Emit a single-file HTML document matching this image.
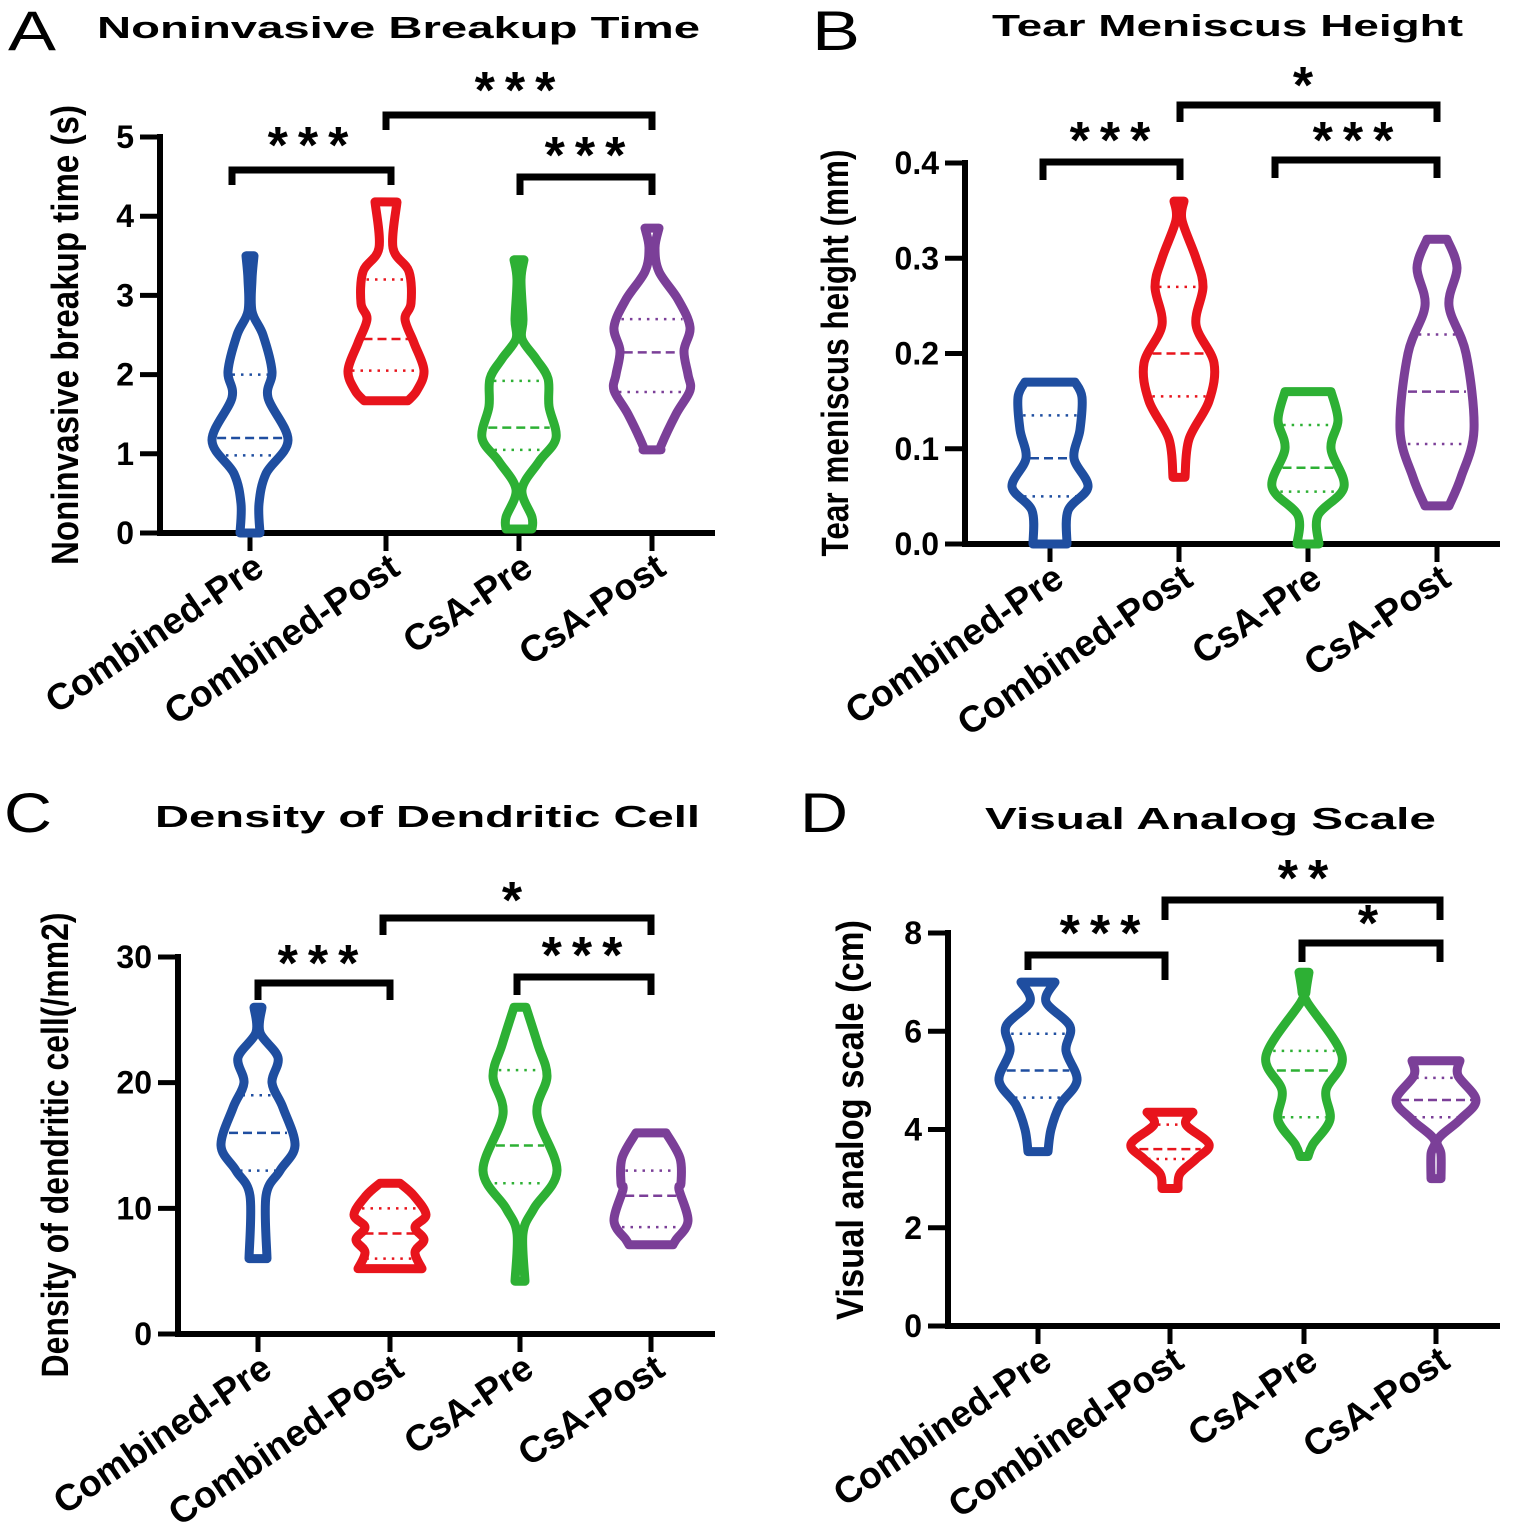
<!DOCTYPE html>
<html><head><meta charset="utf-8"><style>
html,body{margin:0;padding:0;background:#fff}
svg{display:block}
text{font-family:"Liberation Sans",Arial,sans-serif}
</style></head><body>
<svg id="fig" width="1535" height="1526" viewBox="0 0 1535 1526" xmlns="http://www.w3.org/2000/svg"></svg>
<script>
// ---------- DATA ----------
const categories = ["Combined-Pre","Combined-Post","CsA-Pre","CsA-Post"];
// profiles: [value, kde half-width]
const A_pre  = [[3.5,4],[3.2,2],[2.8,2],[2.5,13],[2.04,22],[1.71,18],[1.17,38],[0.75,16],[0.37,9],[0,10]];
const A_post = [[4.18,11],[3.6,7],[3.3,23],[2.9,25],[2.7,19],[2.4,28],[2.05,38],[1.8,31],[1.67,22]];
const A_cpre = [[3.45,5],[3.2,2],[2.7,4],[2.45,3],[2.2,17],[1.95,29],[1.6,30],[1.2,37],[0.9,20],[0.55,3],[0.2,13],[0.05,13]];
const A_cpost= [[3.85,7],[3.6,3],[3.3,7],[2.95,26],[2.6,38],[2.3,32],[2.0,36],[1.8,38],[1.5,24],[1.1,9],[1.05,9]];
const A_med = [1.2,2.45,1.33,2.28], A_q1=[0.98,2.05,1.05,1.78], A_q3=[2.0,3.2,1.92,2.7];
const A_ticks = [0,1,2,3,4,5];

const B_pre  = [[0.17,25],[0.154,32],[0.12,30],[0.09,24],[0.06,38],[0.035,18],[0,17]];
const B_post = [[0.36,5],[0.34,3],[0.30,17],[0.27,24],[0.23,17],[0.19,35],[0.15,30],[0.11,10],[0.07,6]];
const B_cpre = [[0.16,23],[0.13,30],[0.10,23],[0.06,36],[0.03,10],[0,11]];
const B_cpost= [[0.32,10],[0.29,20],[0.25,12],[0.20,29],[0.12,37],[0.07,24],[0.04,12]];
const B_med=[0.09,0.2,0.08,0.16], B_q1=[0.05,0.155,0.055,0.105], B_q3=[0.135,0.27,0.125,0.22];
const B_ticks=[0,0.1,0.2,0.3,0.4], B_tickLabels=["0.0","0.1","0.2","0.3","0.4"];

const C_pre  = [[26,4],[24,2],[22,20],[20,14],[18,25],[15,37],[13,22],[11,8],[6,9]];
const C_post = [[12,10],[11,24],[9.5,36],[8.5,25],[7.5,34],[6.5,25],[5.2,32]];
const C_cpre = [[26,6],[23,18],[20.5,27],[17.5,17],[13,37],[10,14],[8,3],[4.2,5]];
const C_cpost= [[16,15],[14,29],[12,30],[11.5,28],[9,37],[7.5,25],[7.1,22]];
const C_med=[16,8,15,11], C_q1=[13,6,12,8.5], C_q3=[19,10,21,13];
const C_ticks=[0,10,20,30];

const D_pre  = [[7.0,17],[6.6,8],[6.1,32],[5.6,28],[5.0,39],[4.5,22],[4.0,13],[3.55,10]];
const D_post = [[4.35,23],[4.1,16],[3.7,39],[3.4,26],[3.1,10],[2.8,8]];
const D_cpre = [[7.2,5],[6.8,2],[6.6,3],[5.5,38],[4.8,22],[4.2,26],[3.7,9],[3.45,4]];
const D_cpost= [[5.4,24],[5.1,22],[4.6,40],[4.2,24],[3.8,2],[3.5,5],[3.0,5]];
const D_med=[5.2,3.6,5.2,4.6], D_q1=[4.65,3.4,4.25,4.25], D_q3=[5.95,4.1,5.6,5.05];
const D_ticks=[0,2,4,6,8];

// ---------- LAYOUT ----------
const colors=["#1f4ea0","#e8141c","#2db034","#7b3f98"];
const panels=[
 {id:"a",letter:"A",lx:8,ly:50,title:"Noninvasive Breakup Time",tx:97,ty:38,tl:603,
  ytitle:"Noninvasive breakup time (s)",ytx:78,yty:335,ytl:460,
  ax:160,y0:533,ytop:137,max:5,xr:715,xs:[250,386,519,652],
  vio:[A_pre,A_post,A_cpre,A_cpost],med:A_med,q1:A_q1,q3:A_q3,ticks:A_ticks,tl2:null,
  br:[[232,391,170,185,185,"***",313,163],[386,652,115,130,130,"***",520,108],[520,652,177,195,195,"***",590,173]]},
 {id:"b",letter:"B",lx:812,ly:50,title:"Tear Meniscus Height",tx:992,ty:36,tl:471,
  ytitle:"Tear meniscus height (mm)",ytx:848,yty:353,ytl:407,
  ax:965,y0:544,ytop:163,max:0.4,xr:1500,xs:[1050,1179,1308,1437],
  vio:[B_pre,B_post,B_cpre,B_cpost],med:B_med,q1:B_q1,q3:B_q3,ticks:B_ticks,tl2:B_tickLabels,
  br:[[1043,1180,162,180,180,"***",1115,158],[1180,1437,105,122,122,"*",1308,103],[1275,1437,160,178,178,"***",1358,158]]},
 {id:"c",letter:"C",lx:4,ly:832,title:"Density of Dendritic Cell",tx:155,ty:827,tl:545,
  ytitle:"Density of dendritic cell(/mm2)",ytx:68,yty:1145,ytl:465,
  ax:178,y0:1334,ytop:957,max:30,xr:715,xs:[258,390,520,651],
  vio:[C_pre,C_post,C_cpre,C_cpost],med:C_med,q1:C_q1,q3:C_q3,ticks:C_ticks,tl2:null,
  br:[[258,390,983,1000,1000,"***",323,981],[383,651,918,935,935,"*",517,918],[517,651,977,995,995,"***",587,973]]},
 {id:"d",letter:"D",lx:800,ly:832,title:"Visual Analog Scale",tx:985,ty:829,tl:451,
  ytitle:"Visual analog scale (cm)",ytx:863,yty:1120,ytl:400,
  ax:948,y0:1326,ytop:933,max:8,xr:1500,xs:[1038,1170,1304,1436],
  vio:[D_pre,D_post,D_cpre,D_cpost],med:D_med,q1:D_q1,q3:D_q3,ticks:D_ticks,tl2:null,
  br:[[1028,1165,955,970,980,"***",1105,951],[1165,1440,900,920,920,"**",1308,896],[1302,1440,943,962,962,"*",1373,941]]}
];

const NS="http://www.w3.org/2000/svg";
const svg=document.getElementById("fig");
function mk(tag,attrs,parent,txt){const e=document.createElementNS(NS,tag);for(const k in attrs)e.setAttribute(k,attrs[k]);if(txt!==undefined)e.textContent=txt;(parent||svg).appendChild(e);return e;}
function hwAt(prof,v){for(let i=0;i<prof.length-1;i++){const a=prof[i],b=prof[i+1];if(v<=a[0]&&v>=b[0]){const t=(a[0]-v)/(a[0]-b[0]||1);return a[1]+(b[1]-a[1])*t;}}return prof[prof.length-1][1];}
function smooth(pts){let d="M"+pts[0][0]+","+pts[0][1];for(let i=0;i<pts.length-1;i++){const p0=pts[Math.max(0,i-1)],p1=pts[i],p2=pts[i+1],p3=pts[Math.min(pts.length-1,i+2)];const c1=[p1[0]+(p2[0]-p0[0])/6,p1[1]+(p2[1]-p0[1])/6],c2=[p2[0]-(p3[0]-p1[0])/6,p2[1]-(p3[1]-p1[1])/6];d+=" C"+c1[0].toFixed(1)+","+c1[1].toFixed(1)+" "+c2[0].toFixed(1)+","+c2[1].toFixed(1)+" "+p2[0].toFixed(1)+","+p2[1].toFixed(1);}return d;}

panels.forEach(p=>{
 const g=mk("g",{});
 
 
 const y=v=>p.y0-v*(p.y0-p.ytop)/p.max;
 let t=mk("text",{x:p.lx,y:p.ly,"font-size":56,textLength:48,lengthAdjust:"spacingAndGlyphs"},g,p.letter);
 
 t=mk("text",{x:p.tx,y:p.ty,"font-size":31,"font-weight":"bold",textLength:p.tl,lengthAdjust:"spacingAndGlyphs"},g,p.title);
 
 t=mk("text",{x:0,y:0,"font-size":38,"font-weight":"bold","text-anchor":"middle",textLength:p.ytl,lengthAdjust:"spacingAndGlyphs",transform:`translate(${p.ytx},${p.yty}) rotate(-90)`},g,p.ytitle);
 
 let l=mk("line",{x1:p.ax,y1:p.ytop-3,x2:p.ax,y2:p.y0+3,stroke:"#000","stroke-width":6},g);
 
 l=mk("line",{x1:p.ax-3,y1:p.y0,x2:p.xr,y2:p.y0,stroke:"#000","stroke-width":6},g);
 
 p.ticks.forEach((v,i)=>{
  const tk=mk("line",{x1:p.ax-20,y1:y(v),x2:p.ax,y2:y(v),stroke:"#000","stroke-width":5},g);
  
  const lb=mk("text",{x:p.ax-26,y:y(v)+11,"font-size":32,"font-weight":"bold","text-anchor":"end"},g,p.tl2?p.tl2[i]:String(v));
  
 });
 p.xs.forEach((x,i)=>{
  const tk=mk("line",{x1:x,y1:p.y0,x2:x,y2:p.y0+18,stroke:"#000","stroke-width":5},g);
  
  const lb=mk("text",{x:0,y:0,"font-size":37,"font-weight":"bold","text-anchor":"end",transform:`translate(${x+16},${p.y0+40}) rotate(-34)`},g,categories[i]);
  
  const prof=p.vio[i];
  const right=prof.map(q=>[x+q[1],y(q[0])]);
  const left=prof.slice().reverse().map(q=>[x-q[1],y(q[0])]);
  const d=smooth(right)+" L"+left[0][0]+","+left[0][1]+" "+smooth(left).slice(1).replace(/^[^C]*/,"")+" Z";
  const vp=mk("path",{d:d,fill:"none",stroke:colors[i],"stroke-width":9,"stroke-linejoin":"round"},g);
  
  
  [[p.med[i],"9,5","median-line"],[p.q1[i],"2.5,6","q1-line"],[p.q3[i],"2.5,6","q3-line"]].forEach(m=>{
   const w=Math.max(hwAt(prof,m[0])-4,2);
   const ql=mk("line",{x1:x-w,y1:y(m[0]),x2:x+w,y2:y(m[0]),stroke:colors[i],"stroke-width":2.5,"stroke-dasharray":m[1]},g);
   
  });
 });
 p.br.forEach(b=>{
  const bp=mk("path",{d:`M${b[0]},${b[3]} L${b[0]},${b[2]} L${b[1]},${b[2]} L${b[1]},${b[4]}`,fill:"none",stroke:"#000","stroke-width":7},g);
  
  const st=mk("text",{x:b[6],y:b[7],"font-size":52,"font-weight":"bold","text-anchor":"middle","letter-spacing":10},g,b[5]);
  
 });
});
</script>
</body></html>
